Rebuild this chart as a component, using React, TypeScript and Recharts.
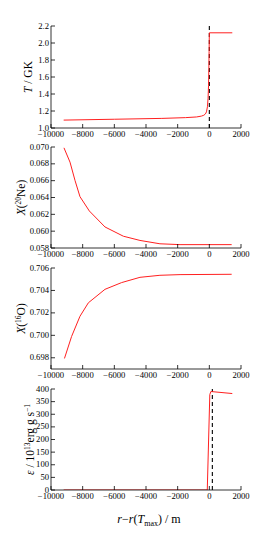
import React from 'react';
import { LineChart, Line, XAxis, YAxis, ReferenceLine } from 'recharts';

const FONT = "'Liberation Serif', 'DejaVu Serif', serif";

const xTicks = [-10000, -8000, -6000, -4000, -2000, 0, 2000];

const rT = [-9200, -6000, -3000, -1500, -800, -500, -350, -250, -180, -120, -80, -50, -30, -15, 0, 1450];
const T = [1.093, 1.103, 1.113, 1.122, 1.13, 1.14, 1.15, 1.165, 1.19, 1.25, 1.35, 1.5, 1.7, 1.9, 2.12, 2.12];
const tTicks = [1.0, 1.2, 1.4, 1.6, 1.8, 2.0, 2.2];

const rNe = [-9180, -8800, -8480, -8170, -7580, -6590, -5430, -4380, -3120, -1850, 1410];
const Ne = [0.0699, 0.0682, 0.066, 0.0641, 0.0624, 0.0605, 0.0594, 0.0589, 0.0585, 0.0584, 0.0584];
const neTicks = [0.058, 0.06, 0.062, 0.064, 0.066, 0.068, 0.07];

const rO = [-9150, -8700, -8170, -7640, -6590, -5540, -4380, -3120, -1850, 1410];
const O = [0.69794, 0.6999, 0.7017, 0.7029, 0.7041, 0.7047, 0.70517, 0.70535, 0.70541, 0.70544];
const oTicks = [0.698, 0.7, 0.702, 0.704, 0.706];

const rEps = [-9200, -130, 30, 100, 1450];
const Eps = [0, 0, 378, 390, 382];
const epsTicks = [0, 50, 100, 150, 200, 250, 300, 350, 400];

const mk = (xs: number[], ys: number[]) => xs.map((r, i) => ({ r, v: ys[i] }));

const fmtX = (v: number) => (v < 0 ? '\u2212' + Math.abs(v) : String(v));

const TICK_FS = 8.6;
const TL = 4;

const BottomTick = (p: any) => (
  <g>
    <line x1={p.x} x2={p.x} y1={p.y} y2={p.y - TL} stroke="#000" strokeWidth={0.8} />
    <text x={p.x} y={p.y + 9} textAnchor="middle" fontSize={TICK_FS} fontFamily={FONT} fill="#000">
      {fmtX(p.payload.value)}
    </text>
  </g>
);
const TopTick = (p: any) => (
  <line x1={p.x} x2={p.x} y1={p.y} y2={p.y + TL} stroke="#000" strokeWidth={0.8} />
);
const makeLeftTick = (fmt: (v: number) => string) => (p: any) => (
  <g>
    <line x1={p.x} x2={p.x + TL} y1={p.y} y2={p.y} stroke="#000" strokeWidth={0.8} />
    <text x={p.x - 2} y={p.y + 2.6} textAnchor="end" fontSize={TICK_FS} fontFamily={FONT} fill="#000">
      {fmt(p.payload.value)}
    </text>
  </g>
);
const RightTick = (p: any) => (
  <line x1={p.x} x2={p.x - TL} y1={p.y} y2={p.y} stroke="#000" strokeWidth={0.8} />
);

type PanelProps = {
  top: number;
  height: number;
  data: { r: number; v: number }[];
  domain: [number, number];
  yTicks: number[];
  fmt: (v: number) => string;
  refX: number;
  label: React.ReactNode;
  labelX: number;
};

function Panel({ top, height, data, domain, yTicks, fmt, refX, label, labelX }: PanelProps) {
  const mt = 6;
  const lbl = 14;
  const cy = top + height / 2;
  return (
    <div style={{ position: 'absolute', left: 0, top: top - mt, width: 267, height: height + mt + lbl }}>
      <LineChart width={267} height={height + mt + lbl} data={data} margin={{ top: mt, right: 26, bottom: 0, left: 0 }}>
        <XAxis
          dataKey="r"
          type="number"
          domain={[-10000, 2000]}
          ticks={xTicks}
          interval={0}
          height={lbl}
          tickSize={0}
          tickMargin={0}
          tickLine={false}
          axisLine={{ stroke: '#000', strokeWidth: 0.8 }}
          tick={BottomTick}
          allowDataOverflow
        />
        <XAxis
          xAxisId="top"
          orientation="top"
          dataKey="r"
          type="number"
          domain={[-10000, 2000]}
          ticks={xTicks}
          interval={0}
          height={0}
          tickSize={0}
          tickMargin={0}
          tickLine={false}
          axisLine={{ stroke: '#000', strokeWidth: 0.8 }}
          tick={TopTick}
          allowDataOverflow
        />
        <YAxis
          type="number"
          domain={domain}
          ticks={yTicks}
          interval={0}
          width={51}
          tickSize={0}
          tickMargin={0}
          tickLine={false}
          axisLine={{ stroke: '#000', strokeWidth: 0.8 }}
          tick={makeLeftTick(fmt)}
          allowDataOverflow
        />
        <YAxis
          yAxisId="right"
          orientation="right"
          type="number"
          domain={domain}
          ticks={yTicks}
          interval={0}
          width={0}
          tickSize={0}
          tickMargin={0}
          tickLine={false}
          axisLine={{ stroke: '#000', strokeWidth: 0.8 }}
          tick={RightTick}
          allowDataOverflow
        />
        <ReferenceLine x={refX} stroke="#000" strokeWidth={1.1} strokeDasharray="4 3" />
        <Line
          type="linear"
          dataKey="v"
          stroke="#ff2020"
          strokeWidth={1}
          dot={false}
          isAnimationActive={false}
        />
      </LineChart>
      <svg
        width={267}
        height={height + mt + lbl}
        style={{ position: 'absolute', left: 0, top: 0, pointerEvents: 'none' }}
      >
        <text
          x={labelX}
          y={cy - top + mt}
          textAnchor="middle"
          fontSize={11.5}
          fontFamily={FONT}
          fill="#000"
          transform={`rotate(-90, ${labelX}, ${cy - top + mt})`}
        >
          {label}
        </text>
      </svg>
    </div>
  );
}

export default function App() {
  return (
    <div style={{ position: 'absolute', left: 0, top: 0, width: 267, height: 533, background: '#fff' }}>
      <Panel
        top={26}
        height={102}
        data={mk(rT, T)}
        domain={[1.0, 2.2]}
        yTicks={tTicks}
        fmt={(v) => v.toFixed(1)}
        refX={0}
        labelX={32}
        label={
          <>
            <tspan fontStyle="italic">T</tspan>
            <tspan> / GK</tspan>
          </>
        }
      />
      <Panel
        top={147}
        height={101}
        data={mk(rNe, Ne)}
        domain={[0.058, 0.07]}
        yTicks={neTicks}
        fmt={(v) => v.toFixed(3)}
        refX={-20000}
        labelX={25}
        label={
          <>
            <tspan fontStyle="italic">X</tspan>
            <tspan>(</tspan>
            <tspan fontSize={7.5} dy={-4.5}>20</tspan>
            <tspan dy={4.5}>Ne)</tspan>
          </>
        }
      />
      <Panel
        top={268}
        height={101}
        data={mk(rO, O)}
        domain={[0.697, 0.706]}
        yTicks={oTicks}
        fmt={(v) => v.toFixed(3)}
        refX={-20000}
        labelX={25}
        label={
          <>
            <tspan fontStyle="italic">X</tspan>
            <tspan>(</tspan>
            <tspan fontSize={7.5} dy={-4.5}>16</tspan>
            <tspan dy={4.5}>O)</tspan>
          </>
        }
      />
      <Panel
        top={389}
        height={101}
        data={mk(rEps, Eps)}
        domain={[0, 400]}
        yTicks={epsTicks}
        fmt={(v) => String(v)}
        refX={190}
        labelX={34}
        label={
          <>
            <tspan fontStyle="italic">{'\u03B5'}</tspan>
            <tspan> / 10</tspan>
            <tspan fontSize={7.5} dy={-4.5}>13</tspan>
            <tspan dy={4.5}>erg g s</tspan>
            <tspan fontSize={7.5} dy={-4.5}>{'\u22121'}</tspan>
          </>
        }
      />
      <svg width={267} height={533} style={{ position: 'absolute', left: 0, top: 0, pointerEvents: 'none' }}>
        <text x={149} y={523} textAnchor="middle" fontSize={12} fontFamily={FONT} fill="#000">
          <tspan fontStyle="italic">r</tspan>
          <tspan>{'\u2212'}</tspan>
          <tspan fontStyle="italic">r</tspan>
          <tspan>(</tspan>
          <tspan fontStyle="italic">T</tspan>
          <tspan fontSize={8} dy={2.5}>max</tspan>
          <tspan dy={-2.5}>{')\u00A0/\u00A0m'}</tspan>
        </text>
      </svg>
    </div>
  );
}
